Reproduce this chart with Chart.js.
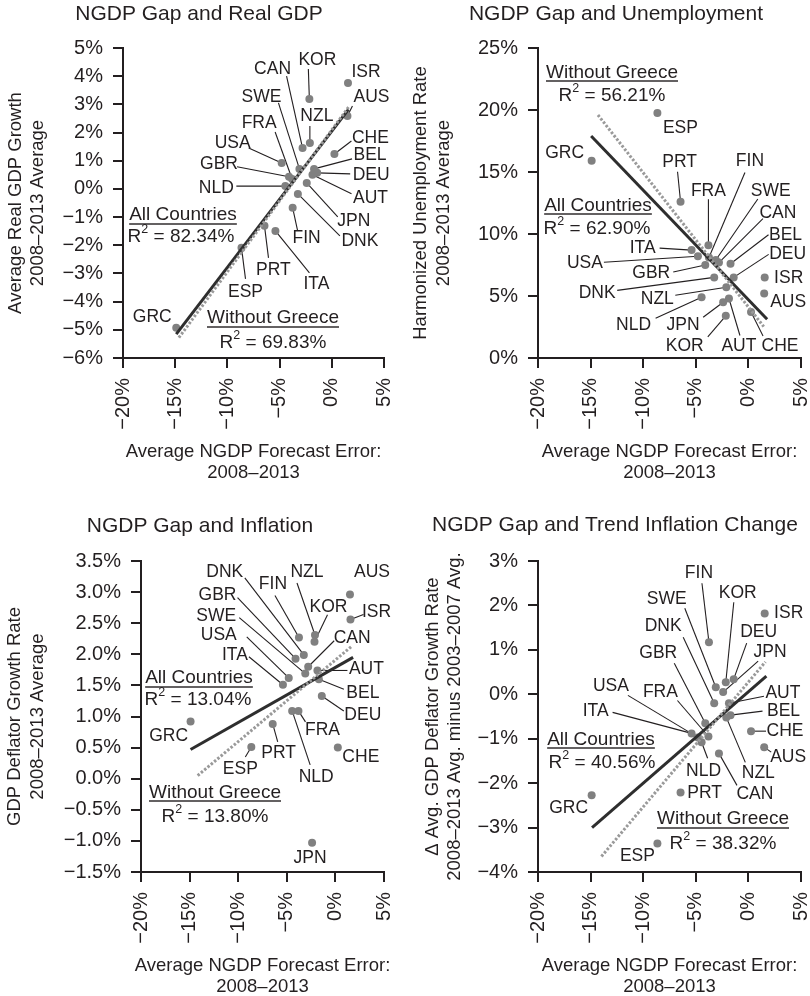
<!DOCTYPE html>
<html lang="en">
<head>
<meta charset="UTF-8" />
<title>NGDP Gap panels</title>
<script src="https://cdn.jsdelivr.net/npm/chart.js@4"></script>
<style>
  body { margin: 0; background: #fff; width: 810px; height: 996px; overflow: hidden; position: relative; }
  canvas { position: absolute; }
</style>
</head>
<body>
<canvas id="gdpChart" width="405" height="498" style="left:0;top:0"></canvas>
<canvas id="unempChart" width="405" height="498" style="left:405px;top:0"></canvas>
<canvas id="inflChart" width="405" height="498" style="left:0;top:498px"></canvas>
<canvas id="trendChart" width="405" height="498" style="left:405px;top:498px"></canvas>
<script>
// ---- data ----
const countries = ['GRC','ESP','PRT','ITA','USA','NLD','GBR','FRA','FIN','DNK','SWE','CAN','JPN','KOR','NZL','AUT','BEL','DEU','CHE','ISR','AUS'];
const ngdpGap = [-14.9,-8.65,-6.45,-5.4,-4.8,-4.45,-4.1,-3.8,-3.75,-3.25,-3.1,-2.8,-2.4,-2.15,-2.1,-1.85,-1.7,-1.4,0.25,1.55,1.5];
const realGdpGrowth = [-4.93,-2.09,-1.31,-1.49,0.92,0.1,0.43,0.35,-0.67,-0.18,0.71,1.45,0.21,3.19,1.63,0.5,0.71,0.57,1.24,3.76,2.59];
const unemployment = [15.9,19.75,12.6,8.7,8.2,4.9,7.5,9.1,8.1,6.5,7.9,7.7,4.5,3.4,5.7,4.8,7.6,6.5,3.7,6.5,5.2];
const deflatorGrowth = [0.92,0.51,0.88,1.51,1.62,1.09,1.93,1.09,2.27,1.99,1.69,1.8,-1.03,2.2,2.31,1.74,1.6,1.33,0.5,2.56,2.96];
const trendInflationChange = [-2.27,-3.36,-2.21,-0.88,-0.97,-1.08,-0.65,-0.95,1.17,-0.2,0.16,-1.33,0.05,0.27,-0.52,-0.2,-0.47,0.34,-0.83,1.82,-1.19];

// fitted lines: [x, y] at both ends
const gdpFitAll = [[-14.9,-5.15],[1.6,2.82]];
const gdpFitExGreece = [[-14.65,-5.28],[1.6,2.9]];
const unempFitAll = [[-14.95,17.9],[1.78,3.12]];
const unempFitExGreece = [[-14.3,19.6],[1.46,2.53]];
const inflFitAll = [[-14.9,0.47],[1.82,1.95]];
const inflFitExGreece = [[-14.17,0.05],[1.61,2.12]];
const trendFitAll = [[-14.86,-3.0],[1.71,0.41]];
const trendFitExGreece = [[-13.97,-3.65],[1.62,0.73]];

const r2All = ['82.34%','62.90%','13.04%','40.56%'];
const r2ExGreece = ['69.83%','56.21%','13.80%','38.32%'];

// ---- styling ----
const FONT = '"Liberation Sans", Arial, Helvetica, sans-serif';
const INK = '#231f20';
const DOT = '#808080';

function pct(v, dec) {
  const s = Math.abs(v).toFixed(dec) + '%';
  return (v < -1e-9 ? '\u2212' : '') + s;
}

// label offsets in px from each point: [dx, dy, lineEndDx, lineEndDy]
const gdpLabels = {
  ISR:[18,-11], KOR:[8,-39,-1,-30], AUS:[24,-19,5,-10], CAN:[-30,-79,-16,-72], SWE:[-38,-72,-21,-66],
  NZL:[7,-27,0,-17], FRA:[-33,-56,-17,-47], USA:[-49,-20,-33,-15], CHE:[36,-16,17,-13], BEL:[56,-14,38,-10],
  GBR:[-70,-13,-52,-10], DEU:[54,2,33,1], NLD:[-69,2,-49,0], AUT:[58,23,39,19], JPN:[47,38,31,34],
  FIN:[14,30,5,23], DNK:[62,47,42,42], PRT:[9,44,4,32], ITA:[41,53,34,42], ESP:[4,44,4,31], GRC:[-24,-11]
};
const unempLabels = {
  ESP:[23,15], GRC:[-27,-8], PRT:[-1,-40,-3,-30], FRA:[0,-54,0,-46], FIN:[41,-96,36,-85],
  SWE:[55,-69,42,-61], CAN:[59,-49,44,-44], BEL:[55,-29,38,-29], DEU:[54,-23,35,-23], ITA:[-49,-2,-32,-2],
  USA:[-113,7,-94,6], GBR:[-54,8,-32,7], DNK:[-117,16,-97,13], NZL:[-69,12,-51,8], ISR:[24,1], AUS:[24,9],
  NLD:[-68,28,-46,21], JPN:[-40,23,-20,15], KOR:[-41,30,-18,21], AUT:[10,48,11,37], CHE:[29,34,12,24]
};
const inflLabels = {
  AUS:[22,-22], NZL:[-8,-63,-18,-52], DNK:[-79,-83,-59,-77], FIN:[-26,-53,-24,-42], GBR:[-78,-63,-58,-61],
  KOR:[14,-35,13,-27], ISR:[26,-7,13,-5], SWE:[-89,-57,-66,-56], CAN:[44,-29,26,-26], USA:[-70,-43,-42,-41],
  ITA:[-48,-30,-34,-28], AUT:[49,-1,30,0], BEL:[44,14,25,10], DEU:[41,19,22,15], FRA:[24,19,7,11],
  PRT:[6,29,5,18], NLD:[24,66,18,54], CHE:[23,10], ESP:[-11,22,-6,10], GRC:[-22,15], JPN:[-2,15]
};
const trendLabels = {
  FIN:[-10,-69,-7,-59], KOR:[12,-89,8,-80], ISR:[24,0], SWE:[-49,-88,-31,-79], DEU:[25,-47,13,-36],
  DNK:[-51,-77,-31,-66], JPN:[47,-40,35,-31], GBR:[-47,-70,-31,-60], USA:[-87,-51,-70,-42], FRA:[-48,-44,-31,-36],
  AUT:[54,-10,35,-7], ITA:[-96,-22,-79,-21], BEL:[53,-4,32,-4], CHE:[34,0,15,0], AUS:[24,10,7,5],
  NLD:[2,29,6,16], NZL:[32,56,19,45], CAN:[36,41,18,32], PRT:[24,1], GRC:[-23,13], ESP:[-20,13]
};

const panels = [
  { id:'gdpChart', y:realGdpGrowth, fitAll:gdpFitAll, fitEx:gdpFitExGreece, yMin:-6, yMax:5, yStep:1, dec:0,
    area:{left:123, right:384, top:48, bottom:358}, labels:gdpLabels,
    title:'NGDP Gap and Real GDP', titlePos:[199,14],
    yTitle:['Average Real GDP Growth','2008\u20132013 Average'], yTitleX:[16,38],
    allNote:{pos:[183,215], uy:224, r2:[181,237]}, exNote:{pos:[273,318], uy:327, r2:[273,343]} },
  { id:'unempChart', y:unemployment, fitAll:unempFitAll, fitEx:unempFitExGreece, yMin:0, yMax:25, yStep:5, dec:0,
    area:{left:133, right:396, top:48, bottom:358}, labels:unempLabels,
    title:'NGDP Gap and Unemployment', titlePos:[211,14],
    yTitle:['Harmonized Unemployment Rate','2008\u20132013 Average'], yTitleX:[16,39],
    allNote:{pos:[193,206], uy:214, r2:[192,229]}, exNote:{pos:[207,73], uy:81, r2:[207,96]} },
  { id:'inflChart', y:deflatorGrowth, fitAll:inflFitAll, fitEx:inflFitExGreece, yMin:-1.5, yMax:3.5, yStep:0.5, dec:1,
    area:{left:141, right:384, top:63, bottom:374}, labels:inflLabels,
    title:'NGDP Gap and Inflation', titlePos:[200,28],
    yTitle:['GDP Deflator Growth Rate','2008\u20132013 Average'], yTitleX:[15,38],
    allNote:{pos:[199,180], uy:189, r2:[198,202]}, exNote:{pos:[215,295], uy:303, r2:[215,319]} },
  { id:'trendChart', y:trendInflationChange, fitAll:trendFitAll, fitEx:trendFitExGreece, yMin:-4, yMax:3, yStep:1, dec:0,
    area:{left:133, right:396, top:63, bottom:374}, labels:trendLabels,
    title:'NGDP Gap and Trend Inflation Change', titlePos:[210,27],
    yTitle:['\u0394 Avg. GDP Deflator Growth Rate','2008\u20132013 Avg. minus 2003\u20132007 Avg.'], yTitleX:[28,50],
    allNote:{pos:[196,242], uy:250, r2:[197,265]}, exNote:{pos:[318,321], uy:330, r2:[318,346]} }
];

function text(ctx, str, x, y, size, align) {
  ctx.font = size + 'px ' + FONT;
  ctx.textAlign = align || 'center';
  ctx.textBaseline = 'middle';
  ctx.fillText(str, x, y);
}

function underlined(ctx, str, x, y, uy) {
  text(ctx, str, x, y, 19);
  const w = ctx.measureText(str).width;
  ctx.fillRect(x - w / 2, uy - 0.7, w, 1.4);
}

function rSquared(ctx, val, cx, cy) {
  const rest = ' = ' + val;
  ctx.font = '19px ' + FONT;
  const wR = ctx.measureText('R').width, wRest = ctx.measureText(rest).width;
  ctx.font = '12.5px ' + FONT;
  const w2 = ctx.measureText('2').width;
  let x = cx - (wR + w2 + wRest) / 2;
  text(ctx, 'R', x, cy, 19, 'left'); x += wR;
  text(ctx, '2', x, cy - 7, 12.5, 'left'); x += w2;
  text(ctx, rest, x, cy, 19, 'left');
}

function decor(p, k) {
  return {
    id: 'decor',
    beforeDatasetsDraw(chart) {
      const ctx = chart.ctx, xs = chart.scales.x, ys = chart.scales.y;
      ctx.save();
      ctx.strokeStyle = INK;
      ctx.lineWidth = 1.1;
      countries.forEach((c, i) => {
        const o = p.labels[c];
        if (!o || o.length < 4) return;
        const px = xs.getPixelForValue(ngdpGap[i]), py = ys.getPixelForValue(p.y[i]);
        ctx.beginPath();
        ctx.moveTo(px, py);
        ctx.lineTo(px + o[2], py + o[3]);
        ctx.stroke();
      });
      ctx.restore();
    },
    afterDatasetsDraw(chart) {
      const ctx = chart.ctx, xs = chart.scales.x, ys = chart.scales.y, a = chart.chartArea;
      ctx.save();
      ctx.fillStyle = INK;
      countries.forEach((c, i) => {
        const o = p.labels[c];
        if (!o) return;
        const px = xs.getPixelForValue(ngdpGap[i]), py = ys.getPixelForValue(p.y[i]);
        text(ctx, c, px + o[0], py + o[1], 17.5);
      });
      // notes
      underlined(ctx, 'All Countries', p.allNote.pos[0], p.allNote.pos[1], p.allNote.uy);
      rSquared(ctx, r2All[k], p.allNote.r2[0], p.allNote.r2[1]);
      underlined(ctx, 'Without Greece', p.exNote.pos[0], p.exNote.pos[1], p.exNote.uy);
      rSquared(ctx, r2ExGreece[k], p.exNote.r2[0], p.exNote.r2[1]);
      // titles
      text(ctx, p.title, p.titlePos[0], p.titlePos[1], 21);
      const cx = (a.left + a.right) / 2, cy = (a.top + a.bottom) / 2;
      text(ctx, 'Average NGDP Forecast Error:', cx, a.bottom + 94, 18.5);
      text(ctx, '2008\u20132013', cx, a.bottom + 115, 18.5);
      p.yTitle.forEach((t, j) => {
        ctx.save();
        ctx.translate(p.yTitleX[j], cy);
        ctx.rotate(-Math.PI / 2);
        text(ctx, t, 0, 0, 18.5);
        ctx.restore();
      });
      ctx.restore();
    }
  };
}

const axisGrid = { drawOnChartArea: false, drawTicks: true, tickLength: 10, color: INK, tickColor: INK, lineWidth: 2, tickWidth: 2 };
const axisBorder = { display: true, color: INK, width: 2 };

panels.forEach((p, k) => {
  const pts = countries.map((c, i) => ({ x: ngdpGap[i], y: p.y[i] }));
  new Chart(document.getElementById(p.id), {
    type: 'scatter',
    data: {
      datasets: [
        { type: 'line', data: p.fitEx.map(d => ({ x: d[0], y: d[1] })), borderColor: '#9a9a9a', borderWidth: 3,
          borderDash: [2.5, 1.8], pointRadius: 0, fill: false, order: 0 },
        { type: 'line', data: p.fitAll.map(d => ({ x: d[0], y: d[1] })), borderColor: '#2e2e2e', borderWidth: 3,
          pointRadius: 0, fill: false, order: 1 },
        { type: 'scatter', data: pts, pointRadius: 4, pointBackgroundColor: DOT, pointBorderWidth: 0, order: 2 }
      ]
    },
    options: {
      responsive: false,
      animation: false,
      devicePixelRatio: 1,
      layout: { padding: { left: 0, top: p.area.top, right: 405 - p.area.right, bottom: 498 - p.area.bottom - 100 } },
      plugins: { legend: { display: false }, tooltip: { enabled: false } },
      scales: {
        x: {
          type: 'linear', min: -20, max: 5,
          ticks: { stepSize: 5, autoSkip: false, maxRotation: 90, minRotation: 90, padding: 10, color: INK,
                   font: { family: FONT, size: 20 }, callback: v => pct(v, 0) },
          grid: axisGrid, border: axisBorder,
          afterFit: s => { s.height = 100; s.paddingLeft = 0; s.paddingRight = 0; }
        },
        y: {
          type: 'linear', min: p.yMin, max: p.yMax,
          ticks: { stepSize: p.yStep, autoSkip: false, padding: 10, color: INK,
                   font: { family: FONT, size: 20 }, callback: v => pct(v, p.dec) },
          grid: axisGrid, border: axisBorder,
          afterFit: s => { s.width = p.area.left; s.paddingTop = 0; s.paddingBottom = 0; }
        }
      }
    },
    plugins: [decor(p, k)]
  });
});
</script>
</body>
</html>
